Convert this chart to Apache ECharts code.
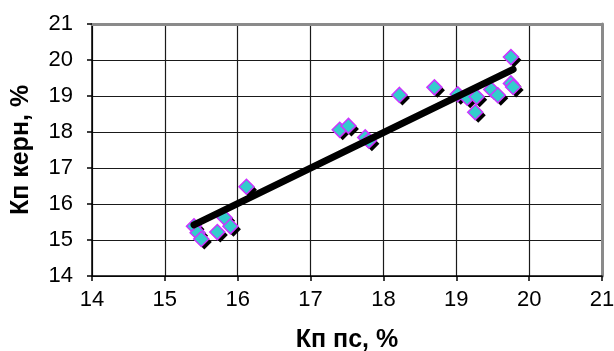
<!DOCTYPE html>
<html>
<head>
<meta charset="utf-8">
<script src="https://cdn.jsdelivr.net/npm/echarts@6/dist/echarts.min.js"></script>
<style>
  html, body { margin: 0; padding: 0; background: #fff; }
  #chart { width: 614px; height: 351px; }
</style>
</head>
<body>
<div id="chart"></div>
<script>
// Porosity: well-log estimate (x) vs core measurement (y), %
const porosityLog  = [15.40, 15.45, 15.50, 15.72, 15.82, 15.90, 16.12, 17.40, 17.52, 17.75, 17.80,
                      18.22, 18.70, 19.02, 19.15, 19.28, 19.26, 19.48, 19.57, 19.75, 19.78, 19.75];
const porosityCore = [15.38, 15.20, 15.03, 15.22, 15.62, 15.38, 16.48, 18.06, 18.17, 17.85, 17.76,
                      19.03, 19.24, 19.05, 18.95, 18.98, 18.55, 19.18, 19.02, 19.35, 19.25, 20.08];

// Linear trend endpoints
const trendX = [15.40, 19.78];
const trendY = [15.42, 19.74];

const axisMin = 14, axisMax = 21, axisStep = 1;
const xTitle = 'Кп пс, %';
const yTitle = 'Кп керн, %';

const points = porosityLog.map((x, i) => [x, porosityCore[i]]);
const trend = trendX.map((x, i) => [x, trendY[i]]);

const font = '"Liberation Sans", Arial, sans-serif';

const chart = echarts.init(document.getElementById('chart'), null, { renderer: 'canvas' });

const valueAxis = (pos) => ({
  type: 'value',
  position: pos,
  min: axisMin, max: axisMax, interval: axisStep,
  axisLine: { show: true, onZero: false, lineStyle: { color: '#000', width: 1.5 } },
  axisTick: { show: true, inside: false, length: 5, lineStyle: { color: '#000', width: 1.5 } },
  splitLine: { show: true, lineStyle: { color: '#1a1a1a', width: 1.2 } },
  axisLabel: { color: '#000', fontFamily: font, fontSize: 22, margin: pos === 'left' ? 19 : 13 }
});

const frameAxis = (pos) => ({
  type: 'value',
  position: pos,
  min: axisMin, max: axisMax, interval: axisStep,
  axisLine: { show: true, onZero: false, lineStyle: { color: '#8a8a8a', width: 3 } },
  axisTick: { show: false },
  splitLine: { show: false },
  axisLabel: { show: false }
});

const diamond = {
  type: 'scatter',
  data: points,
  symbol: 'diamond',
  symbolSize: 15
};

chart.setOption({
  animation: false,
  backgroundColor: '#fff',
  grid: { left: 92, right: 12, top: 24, bottom: 75, outerBoundsMode: 'none', containLabel: false },
  xAxis: [
    Object.assign(valueAxis('bottom'), {
      name: xTitle, nameLocation: 'middle', nameGap: 52,
      nameTextStyle: { color: '#000', fontFamily: font, fontSize: 25, fontWeight: 'bold' }
    }),
    frameAxis('top')
  ],
  yAxis: [
    Object.assign(valueAxis('left'), {
      name: yTitle, nameLocation: 'middle', nameGap: 58, nameRotate: 90,
      nameTextStyle: { color: '#000', fontFamily: font, fontSize: 25, fontWeight: 'bold' }
    }),
    frameAxis('right')
  ],
  series: [
    // drop shadow under each marker
    Object.assign({}, diamond, {
      symbolOffset: [3, 3],
      z: 2,
      silent: true,
      itemStyle: { color: '#000', opacity: 1 }
    }),
    Object.assign({}, diamond, {
      z: 3,
      itemStyle: { color: '#33cccc', borderColor: '#cc33ff', borderWidth: 1.5, opacity: 1 }
    }),
    {
      type: 'line',
      data: trend,
      symbol: 'none',
      z: 4,
      lineStyle: { color: '#000', width: 7, cap: 'round' }
    }
  ]
});
</script>
</body>
</html>
